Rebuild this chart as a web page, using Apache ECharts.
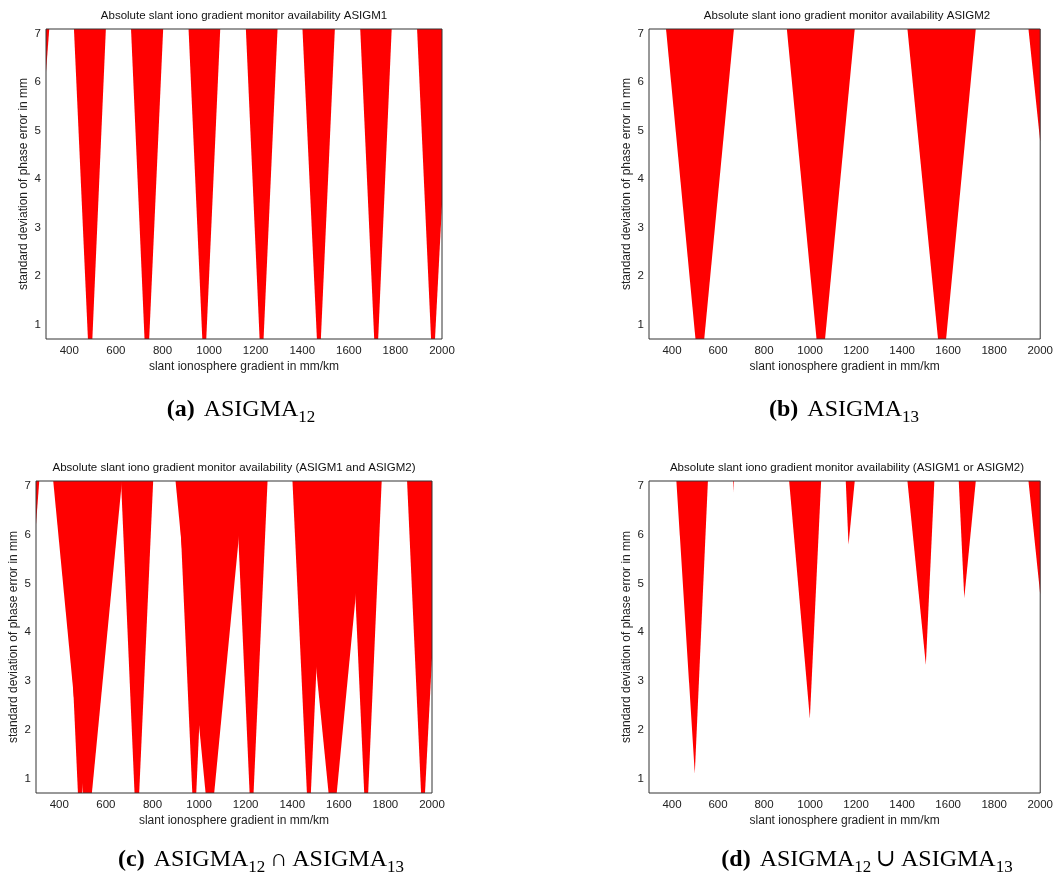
<!DOCTYPE html>
<html><head><meta charset="utf-8">
<script src="https://cdn.jsdelivr.net/npm/echarts@6/dist/echarts.min.js"></script>
<style>html,body{margin:0;padding:0;background:#fff}#c{width:1056px;height:874px}</style>
</head><body><div id="c"></div>
<script>
// ---- data (x: slant ionosphere gradient mm/km, y: std dev of phase error mm) ----
const xTicks = [400, 600, 800, 1000, 1200, 1400, 1600, 1800, 2000];
const yTicks = [1, 2, 3, 4, 5, 6, 7];
const xRange = [300, 2000];
const yRange = [0.7, 7.1];

// red (unavailable) regions of ASIGM1, polygons in data units
const asigm1 = [
  [[300, 7.1], [314, 7.1], [300, 6.21]],
  [[420, 7.1], [557, 7.1], [499, 0.7], [480, 0.7]],
  [[665, 7.1], [803, 7.1], [743, 0.7], [723, 0.7]],
  [[912, 7.1], [1048, 7.1], [988, 0.7], [971, 0.7]],
  [[1158, 7.1], [1294, 7.1], [1234, 0.7], [1217, 0.7]],
  [[1401, 7.1], [1540, 7.1], [1480, 0.7], [1463, 0.7]],
  [[1649, 7.1], [1784, 7.1], [1726, 0.7], [1709, 0.7]],
  [[1893, 7.1], [2000, 7.1], [2000, 3.48], [1970, 0.7], [1953, 0.7]]
];
// red regions of ASIGM2
const asigm2 = [
  [[374, 7.1], [669, 7.1], [540, 0.7], [502, 0.7]],
  [[899, 7.1], [1194, 7.1], [1065, 0.7], [1028, 0.7]],
  [[1423, 7.1], [1720, 7.1], [1591, 0.7], [1556, 0.7]],
  [[1949, 7.1], [2000, 7.1], [2000, 4.77]]
];
// red regions of (ASIGM1 or ASIGM2)
const asigmOr = [
  [[419, 7.1], [556, 7.1], [499, 1.10]],
  [[665, 7.1], [668, 7.1], [666, 6.87]],
  [[909, 7.1], [1048, 7.1], [999, 2.23]],
  [[1155, 7.1], [1194, 7.1], [1167, 5.79]],
  [[1423, 7.1], [1540, 7.1], [1503, 3.33]],
  [[1646, 7.1], [1720, 7.1], [1670, 4.70]],
  [[1949, 7.1], [2000, 7.1], [2000, 4.77]]
];
const panelTitles = [
  'Absolute slant iono gradient monitor availability ASIGM1',
  'Absolute slant iono gradient monitor availability ASIGM2',
  'Absolute slant iono gradient monitor availability (ASIGM1 and ASIGM2)',
  'Absolute slant iono gradient monitor availability (ASIGM1 or ASIGM2)'
];
const captions = [
  '{b|(a)}{g|}{n|ASIGMA}{s|12}',
  '{b|(b)}{g|}{n|ASIGMA}{s|13}',
  '{b|(c)}{g|}{n|ASIGMA}{s|12}{n|\u2009\u2229\u2009ASIGMA}{s|13}',
  '{b|(d)}{g|}{n|ASIGMA}{s|12}{n|\u2009\u222A\u2009ASIGMA}{s|13}'
];
const xName = 'slant ionosphere gradient in mm/km';
const yName = 'standard deviation of phase error in mm';

const panelPolys = [asigm1, asigm2, asigm1.concat(asigm2), asigmOr];

// ---- layout ----
const grids = [
  {left: 46, top: 29, width: 396, height: 310},
  {left: 649, top: 29, width: 396, height: 310},
  {left: 36, top: 481, width: 396, height: 312},
  {left: 649, top: 481, width: 396, height: 312}
];
const captionPos = [[241, 408], [844, 408], [261, 858], [867, 858]];

const SANS = "'Liberation Sans', Arial, sans-serif";
const SERIF = "'Liberation Serif', 'DejaVu Serif', serif";

const option = {
  animation: false,
  backgroundColor: '#ffffff',
  grid: grids.map(g => Object.assign({show: true, z: 5, backgroundColor: 'transparent',
    borderColor: '#333', borderWidth: 1}, g)),
  xAxis: grids.map((g, i) => ({
    gridIndex: i, type: 'value', min: xRange[0], max: xRange[1],
    name: xName, nameLocation: 'middle', nameGap: 22,
    nameTextStyle: {fontFamily: SANS, fontSize: 12, color: '#222'},
    axisLine: {show: false}, axisTick: {show: false}, splitLine: {show: false},
    axisLabel: {customValues: xTicks, formatter: v => String(v),
      fontFamily: SANS, fontSize: 11.5, color: '#222', margin: 6}
  })),
  yAxis: grids.map((g, i) => ({
    gridIndex: i, type: 'value', min: yRange[0], max: yRange[1],
    name: yName, nameLocation: 'middle', nameGap: 16,
    nameTextStyle: {fontFamily: SANS, fontSize: 12, color: '#222'},
    axisLine: {show: false}, axisTick: {show: false}, splitLine: {show: false},
    axisLabel: {customValues: yTicks, formatter: v => String(v),
      fontFamily: SANS, fontSize: 11.5, color: '#222', margin: 5}
  })),
  series: panelPolys.map((polys, i) => ({
    type: 'custom', xAxisIndex: i, yAxisIndex: i, clip: true,
    data: polys.map(p => p[0]),
    renderItem: function (params, api) {
      const pts = polys[params.dataIndex].map(p => api.coord(p));
      return {type: 'polygon', shape: {points: pts}, style: {fill: '#ff0000', stroke: null}};
    }
  })),
  graphic: grids.map((g, i) => ({
    type: 'text', x: g.left + g.width / 2, y: g.top - 13,
    style: {text: panelTitles[i], fontFamily: SANS, fontSize: 11.5, fill: '#111',
      align: 'center', verticalAlign: 'middle'}
  })).concat(captionPos.map((p, i) => ({
    type: 'text', x: p[0], y: p[1] + 2,
    style: {text: captions[i], align: 'center', verticalAlign: 'middle', fill: '#000',
      rich: {
        b: {fontFamily: SERIF, fontSize: 24, fontWeight: 'bold', lineHeight: 32},
        g: {fontFamily: SERIF, fontSize: 24, lineHeight: 32, width: 9},
        n: {fontFamily: SERIF, fontSize: 24, lineHeight: 32},
        s: {fontFamily: SERIF, fontSize: 17, lineHeight: 18, verticalAlign: 'bottom'}
      }}
  })))
};
const chart = echarts.init(document.getElementById('c'), null, {renderer: 'canvas'});
chart.setOption(option);
</script></body></html>
